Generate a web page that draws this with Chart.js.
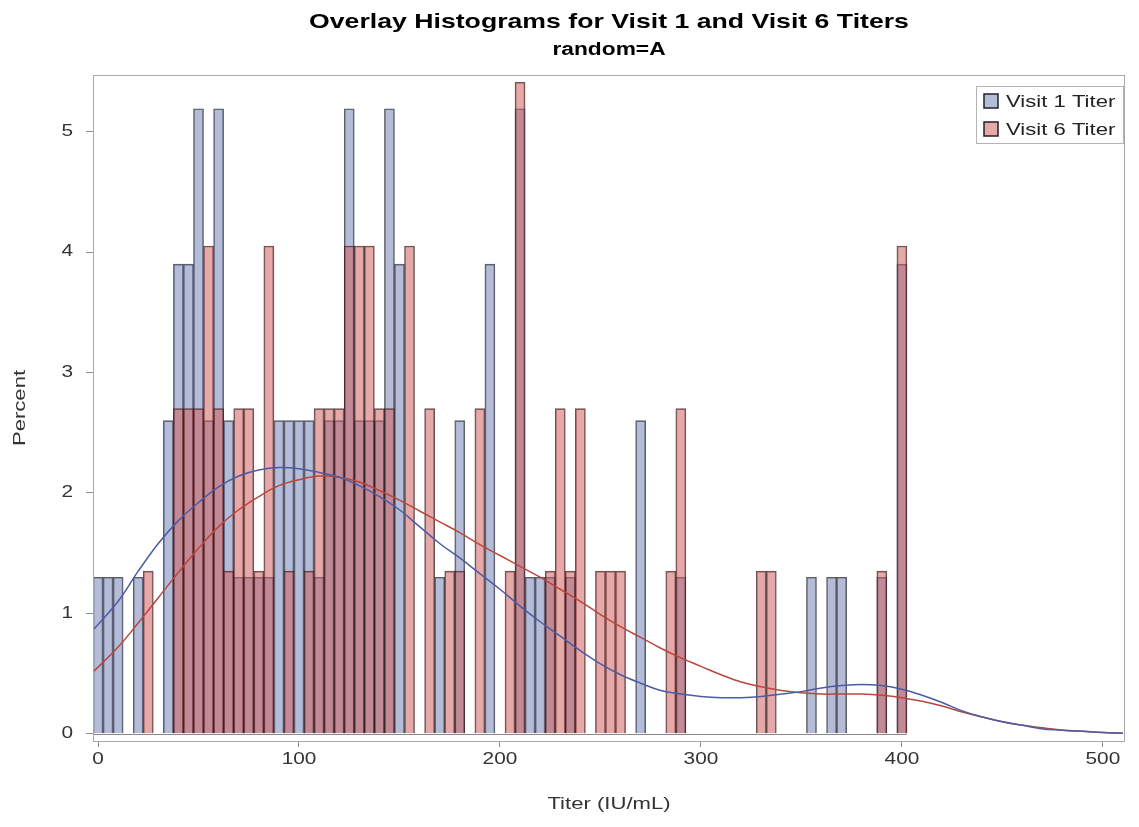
<!DOCTYPE html>
<html lang="en">
<head>
    <meta charset="UTF-8">
    <title>Overlay Histograms for Visit 1 and Visit 6 Titers</title>
    <script src="https://cdn.jsdelivr.net/npm/chart.js"></script>
    <style>
        html, body { margin: 0; padding: 0; background: #fff; }
        #chart { display: block; }
    </style>
</head>
<body>
    <canvas id="chart" width="1139" height="827"></canvas>

    <script>
        // histogram bin midpoints (IU/mL)
        const bins = [
            0, 5, 10, 15, 20, 25, 30, 35, 40, 45,
            50, 55, 60, 65, 70, 75, 80, 85, 90, 95,
            100, 105, 110, 115, 120, 125, 130, 135, 140, 145,
            150, 155, 160, 165, 170, 175, 180, 185, 190, 195,
            200, 205, 210, 215, 220, 225, 230, 235, 240, 245,
            250, 255, 260, 265, 270, 275, 280, 285, 290, 295,
            300, 305, 310, 315, 320, 325, 330, 335, 340, 345,
            350, 355, 360, 365, 370, 375, 380, 385, 390, 395,
            400
        ];

        // percent of subjects per bin
        const visit1Pct = [
            1.3, 1.3, 1.3, 0, 1.3, 0, 0, 2.6, 3.9, 3.9,
            5.19, 2.6, 5.19, 2.6, 1.3, 1.3, 1.3, 1.3, 2.6, 2.6,
            2.6, 2.6, 1.3, 2.6, 2.6, 5.19, 2.6, 2.6, 2.6, 5.19,
            3.9, 0, 0, 0, 1.3, 0, 2.6, 0, 0, 3.9,
            0, 0, 5.19, 1.3, 1.3, 1.3, 0, 1.3, 0, 0,
            0, 0, 0, 0, 2.6, 0, 0, 0, 1.3, 0,
            0, 0, 0, 0, 0, 0, 0, 0, 0, 0,
            0, 1.3, 0, 1.3, 1.3, 0, 0, 0, 1.3, 0,
            3.9
        ];
        const visit6Pct = [
            0, 0, 0, 0, 0, 1.35, 0, 0, 2.7, 2.7,
            2.7, 4.05, 2.7, 1.35, 2.7, 2.7, 1.35, 4.05, 0, 1.35,
            0, 1.35, 2.7, 2.7, 2.7, 4.05, 4.05, 4.05, 2.7, 2.7,
            0, 4.05, 0, 2.7, 0, 1.35, 1.35, 0, 2.7, 0,
            0, 1.35, 5.41, 0, 0, 1.35, 2.7, 1.35, 2.7, 0,
            1.35, 1.35, 1.35, 0, 0, 0, 0, 1.35, 2.7, 0,
            0, 0, 0, 0, 0, 0, 1.35, 1.35, 0, 0,
            0, 0, 0, 0, 0, 0, 0, 0, 1.35, 0,
            4.05
        ];

        // kernel density curves
        const densX = [
            -2, 10, 20, 30, 40, 50, 60, 70, 80, 90,
            100, 110, 120, 130, 140, 150, 160, 170, 180, 190,
            200, 210, 220, 230, 240, 250, 260, 270, 280, 290,
            300, 310, 320, 330, 340, 350, 360, 370, 380, 390,
            400, 410, 420, 430, 440, 450, 460, 470, 480, 490,
            500, 510
        ];
        const visit1Dens = [
            0.87, 1.10, 1.35, 1.58, 1.77, 1.92, 2.05, 2.14, 2.19, 2.21,
            2.20, 2.17, 2.13, 2.06, 1.97, 1.86, 1.72, 1.58, 1.46, 1.33,
            1.20, 1.06, 0.93, 0.81, 0.69, 0.58, 0.49, 0.42, 0.36, 0.33,
            0.31, 0.30, 0.30, 0.31, 0.33, 0.35, 0.38, 0.40, 0.41, 0.40,
            0.37, 0.32, 0.26, 0.19, 0.14, 0.10, 0.07, 0.04, 0.03, 0.02,
            0.01, 0.005
        ];
        const visit6Dens = [
            0.52, 0.72, 0.92, 1.13, 1.34, 1.54, 1.72, 1.86, 1.97, 2.06,
            2.11, 2.14, 2.13, 2.09, 2.02, 1.94, 1.85, 1.76, 1.67, 1.57,
            1.48, 1.39, 1.30, 1.20, 1.10, 0.99, 0.89, 0.80, 0.71, 0.63,
            0.56, 0.49, 0.43, 0.39, 0.36, 0.34, 0.33, 0.33, 0.33, 0.32,
            0.30, 0.27, 0.23, 0.18, 0.14, 0.10, 0.07, 0.05, 0.03, 0.02,
            0.01, 0.005
        ];

        const xTicks = [0, 100, 200, 300, 400, 500];
        const yTicks = [0, 1, 2, 3, 4, 5];

        const blueFill = 'rgba(111, 126, 179, 0.52)';
        const redFill = 'rgba(208, 91, 91, 0.52)';

        const toBars = vals => bins.map((b, i) => ({ x: b, y: vals[i] })).filter(p => p.y > 0);
        const toLine = vals => densX.map((v, i) => ({ x: v, y: vals[i] }));

        Chart.defaults.font.family = "'Liberation Sans', Arial, sans-serif";

        const canvas = document.getElementById('chart');
        const ctx = canvas.getContext('2d');

        // the original graph's lettering is drawn wide; stretch all text a bit
        const stretchX = 1.3;
        const rawFillText = ctx.fillText.bind(ctx);
        ctx.fillText = function (text, x, y) {
            this.save();
            this.translate(x, y);
            this.scale(stretchX, 1);
            rawFillText(text, 0, 0);
            this.restore();
        };

        // plot frame, baseline and SAS style legend inside the plot
        const frame = {
            id: 'frame',
            beforeDatasetsDraw(chart) {
                const { ctx, scales: { x, y } } = chart;
                const y0 = Math.round(y.getPixelForValue(0)) + 0.5;
                ctx.save();
                ctx.strokeStyle = 'rgba(60, 60, 60, 0.6)';
                ctx.lineWidth = 1;
                ctx.beginPath();
                ctx.moveTo(x.getPixelForValue(bins[0] - 2.5), y0);
                ctx.lineTo(x.getPixelForValue(bins[bins.length - 1] + 2.5), y0);
                ctx.stroke();
                ctx.restore();
            },
            afterDatasetsDraw(chart) {
                const { ctx, chartArea: a } = chart;
                ctx.save();
                ctx.strokeStyle = '#a8a8a8';
                ctx.lineWidth = 1;
                ctx.strokeRect(a.left + 0.5, a.top + 0.5, a.right - a.left - 1, a.bottom - a.top);
                ctx.restore();
            },
            afterDraw(chart) {
                const { ctx, chartArea: a } = chart;
                const w = 147, h = 57;
                const x0 = a.right - w - 2, y0 = a.top + 11;
                ctx.save();
                ctx.fillStyle = '#fff';
                ctx.fillRect(x0, y0, w, h);
                ctx.strokeStyle = '#b4b4b4';
                ctx.strokeRect(x0 + 0.5, y0 + 0.5, w, h);
                ctx.font = "17px 'Liberation Sans', Arial, sans-serif";
                ctx.textBaseline = 'middle';
                [0, 1].forEach(i => {
                    const ds = chart.data.datasets[i];
                    const cy = y0 + 15 + i * 28;
                    ctx.fillStyle = ds.backgroundColor;
                    ctx.fillRect(x0 + 8, cy - 7, 14, 14);
                    ctx.strokeStyle = '#222';
                    ctx.lineWidth = 1.5;
                    ctx.strokeRect(x0 + 8, cy - 7, 14, 14);
                    ctx.fillStyle = '#222';
                    ctx.fillText(ds.label, x0 + 30, cy + 1);
                });
                ctx.restore();
            }
        };

        const chart = new Chart(ctx, {
            type: 'bar',
            data: {
                datasets: [
                    {
                        label: 'Visit 1 Titer',
                        data: toBars(visit1Pct),
                        backgroundColor: blueFill,
                        borderColor: 'rgba(40, 40, 50, 0.75)',
                        borderWidth: 1,
                        grouped: false,
                        barPercentage: 1,
                        categoryPercentage: 1,
                        order: 2
                    },
                    {
                        label: 'Visit 6 Titer',
                        data: toBars(visit6Pct),
                        backgroundColor: redFill,
                        borderColor: 'rgba(50, 30, 30, 0.75)',
                        borderWidth: 1,
                        grouped: false,
                        barPercentage: 1,
                        categoryPercentage: 1,
                        order: 1
                    },
                    {
                        type: 'line',
                        label: 'Visit 1 density',
                        data: toLine(visit1Dens),
                        borderColor: '#4b5ca6',
                        borderWidth: 1.5,
                        pointRadius: 0,
                        tension: 0.4,
                        fill: false,
                        order: 0
                    },
                    {
                        type: 'line',
                        label: 'Visit 6 density',
                        data: toLine(visit6Dens),
                        borderColor: '#b9473c',
                        borderWidth: 1.5,
                        pointRadius: 0,
                        tension: 0.4,
                        fill: false,
                        order: 0
                    }
                ]
            },
            options: {
                responsive: false,
                devicePixelRatio: 1,
                animation: false,
                layout: { padding: { top: 0, right: 14, bottom: 0, left: 0 } },
                plugins: {
                    legend: { display: false },
                    tooltip: { enabled: false },
                    title: {
                        display: true,
                        fullSize: false,
                        text: 'Overlay Histograms for Visit 1 and Visit 6 Titers',
                        color: '#000',
                        font: { size: 20.5, weight: 'bold' },
                        padding: { top: 10, bottom: 3 }
                    },
                    subtitle: {
                        display: true,
                        fullSize: false,
                        text: 'random=A',
                        color: '#000',
                        font: { size: 17.5, weight: 'bold' },
                        padding: { top: 2, bottom: 14.4 }
                    }
                },
                scales: {
                    x: {
                        type: 'linear',
                        min: -2.5,
                        max: 511,
                        offset: false,
                        afterBuildTicks: s => { s.ticks = xTicks.map(v => ({ value: v })); },
                        afterFit: s => { s.height = 86; },
                        grid: { offset: false, drawOnChartArea: false, tickLength: 6, color: '#8c8c8c' },
                        border: { display: false },
                        ticks: { color: '#333', font: { size: 16 }, padding: 3, maxRotation: 0 },
                        title: {
                            display: true,
                            text: 'Titer (IU/mL)',
                            color: '#333',
                            font: { size: 17 },
                            padding: { top: 0, bottom: 12 }
                        }
                    },
                    y: {
                        min: -0.06,
                        max: 5.47,
                        afterBuildTicks: s => { s.ticks = yTicks.map(v => ({ value: v })); },
                        afterFit: s => { s.width = 93; },
                        grid: { drawOnChartArea: false, tickLength: 7, color: '#8c8c8c' },
                        border: { display: false },
                        ticks: { color: '#333', font: { size: 16 }, padding: 13 },
                        title: {
                            display: true,
                            text: 'Percent',
                            color: '#333',
                            font: { size: 17 },
                            padding: { top: 10, bottom: 0 }
                        }
                    }
                }
            },
            plugins: [frame]
        });
    </script>
</body>
</html>
